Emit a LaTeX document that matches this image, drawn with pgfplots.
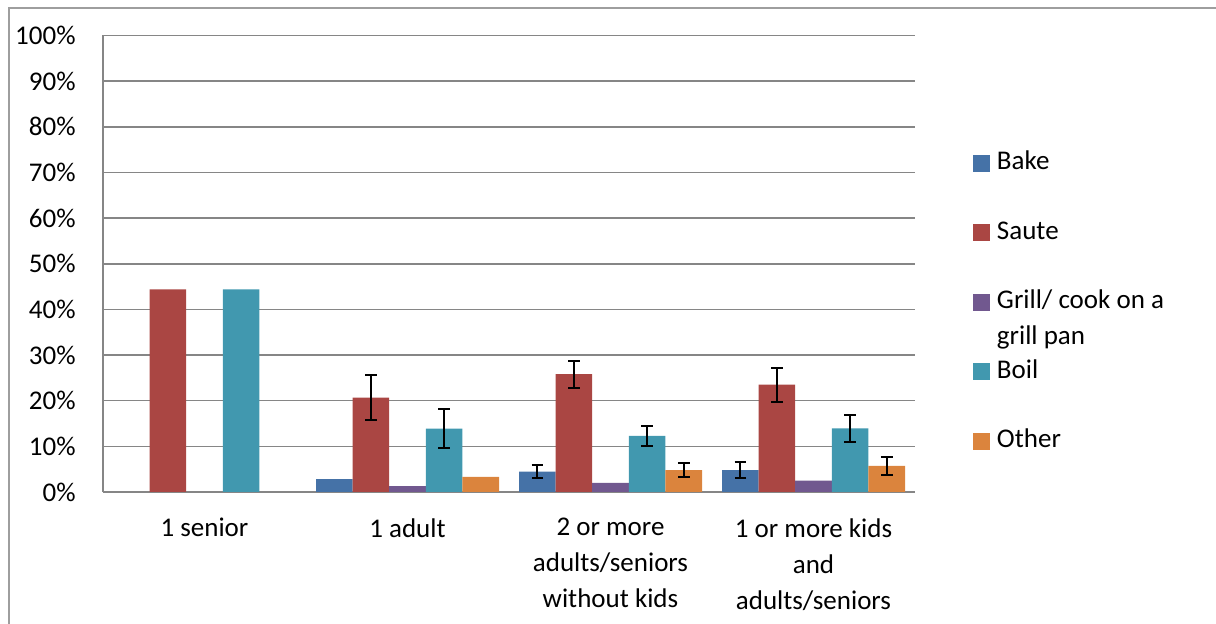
\documentclass[border=0pt]{standalone}
\usepackage{fontspec}
\setmainfont{Carlito}
\usepackage{pgfplots}
\usepackage{pgfplotstable}
\pgfplotsset{compat=1.18}
\definecolor{bake}{HTML}{4572A7}
\definecolor{saute}{HTML}{AA4643}
\definecolor{grill}{HTML}{71588F}
\definecolor{boil}{HTML}{4198AF}
\definecolor{other}{HTML}{DB843D}
\definecolor{gridgray}{RGB}{134,134,134}
\newcommand\cf{\fontsize{13.5bp}{18bp}\selectfont}

\pgfplotstableread{
x y
0 0
1 2.8
2 4.45
3 4.8
}\bake
\pgfplotstableread{
x y
0 44.4
1 20.7
2 25.8
3 23.5
}\saute
\pgfplotstableread{
x y
0 0
1 1.3
2 2.0
3 2.5
}\grill
\pgfplotstableread{
x y
0 44.4
1 13.9
2 12.3
3 13.95
}\boil
\pgfplotstableread{
x y
0 0
1 3.3
2 4.8
3 5.7
}\other
\pgfplotstableread{
x y e
1.6394 4.45 1.4
2.6394 4.8 1.8
}\bakeerr
\pgfplotstableread{
x y e
0.8197 20.7 5.0
1.8197 25.8 3.0
2.8197 23.5 3.75
}\sauteerr
\pgfplotstableread{
x y e
1.1803 13.9 4.35
2.1803 12.3 2.2
3.1803 13.95 2.95
}\boilerr
\pgfplotstableread{
x y e
2.3606 4.8 1.6
3.3606 5.7 2.0
}\othererr

\begin{document}
\cf
\begin{tikzpicture}[font=\cf]
\useasboundingbox (0,0) rectangle (608bp,312bp);
\draw[gridgray!80, line width=1bp] (4.25bp,-5bp) -- (4.25bp,307.75bp) -- (615bp,307.75bp);
\begin{axis}[
  at={(51.5bp,66bp)}, anchor=south west,
  scale only axis, width=406bp, height=228.25bp,
  xmin=-0.5, xmax=3.5, ymin=0, ymax=100,
  axis x line*=bottom, axis y line*=left,
  axis line style={gridgray, line width=1bp, -},
  major tick length=0pt,
  xtick={0,1,2,3},
  xticklabels={1 senior, 1 adult, {2 or more\\adults/seniors\\without kids}, {1 or more kids\\and\\adults/seniors}},
  xticklabel style={align=center, font=\cf, yshift=-8.5bp},
  ytick={0,10,...,100},
  yticklabels={0\%,10\%,20\%,30\%,40\%,50\%,60\%,70\%,80\%,90\%,100\%},
  yticklabel style={font=\cf, xshift=-9bp},
  ymajorgrids, major grid style={gridgray, line width=0.8bp},
  legend style={at={(1.0714,0.748)}, anchor=north west, draw=none, fill=none,
    inner sep=0pt, outer sep=0pt, row sep=22.25bp, font=\cf,
    cells={anchor=west}, nodes={inner sep=0pt, text height=9.5bp, text depth=3bp}},
  legend image code/.code={\fill[#1] (0bp,-4.25bp) rectangle (8.5bp,4.25bp); \path (12bp,0bp);},
  bar width=18.3bp,
]
\addplot[ybar, bar shift=-36.6bp, fill=bake, draw=none] table[x=x,y=y]{\bake};
\addlegendentry{Bake}
\addplot[ybar, bar shift=-18.3bp, fill=saute, draw=none] table[x=x,y=y]{\saute};
\addlegendentry{Saute}
\addplot[ybar, bar shift=0bp, fill=grill, draw=none] table[x=x,y=y]{\grill};
\addlegendentry{\smash{\begin{tabular}[t]{@{}l@{}}Grill/ cook on a\\grill pan\end{tabular}}}
\addplot[ybar, bar shift=18.3bp, fill=boil, draw=none] table[x=x,y=y]{\boil};
\addlegendentry{Boil}
\addplot[ybar, bar shift=36.6bp, fill=other, draw=none] table[x=x,y=y]{\other};
\addlegendentry{Other}
\pgfplotsset{errstyle/.style={forget plot, draw=none, mark=none,
  error bars/.cd, y dir=both, y explicit,
  error bar style={draw=black, line width=1bp},
  error mark options={draw=black, rotate=90, mark size=2.9bp, line width=1bp}}}
\addplot[errstyle] table[x=x,y=y,y error=e]{\bakeerr};
\addplot[errstyle] table[x=x,y=y,y error=e]{\sauteerr};
\addplot[errstyle] table[x=x,y=y,y error=e]{\boilerr};
\addplot[errstyle] table[x=x,y=y,y error=e]{\othererr};
\end{axis}
\end{tikzpicture}
\end{document}
